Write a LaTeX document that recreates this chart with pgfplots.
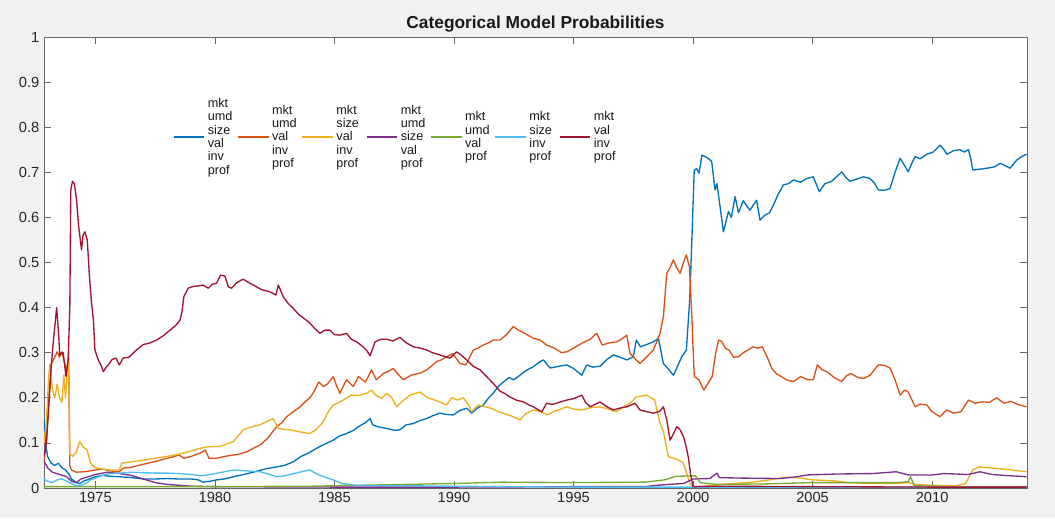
\documentclass[border=0pt]{standalone}
\usepackage{pgfplots}
\pgfplotsset{compat=1.18}
\usepackage{fontspec}
\setmainfont{Liberation Sans}

% MATLAB-style line colours
\definecolor{mblue}{rgb}{0,0.447,0.741}
\definecolor{morange}{rgb}{0.85,0.325,0.098}
\definecolor{myellow}{rgb}{0.929,0.694,0.125}
\definecolor{mpurple}{rgb}{0.494,0.184,0.556}
\definecolor{mgreen}{rgb}{0.466,0.674,0.188}
\definecolor{mcyan}{rgb}{0.301,0.745,0.933}
\definecolor{mred}{rgb}{0.635,0.078,0.184}
\definecolor{figbg}{gray}{0.945}
\definecolor{axgray}{gray}{0.15}

% stacked factor names of one model, in a box of fixed size so that
% every entry is centred on its legend line
\newcommand{\lgd}[1]{\parbox[c][64pt][c]{19.5pt}{\raggedright #1}}

\begin{document}
\begin{tikzpicture}
\fill[figbg] (-33pt,-22.5pt) rectangle (758.25pt,366pt);
\begin{axis}[
  scale only axis, width=737.25pt, height=338.25pt,
  at={(0pt,0pt)}, anchor=south west,
  axis background/.style={fill=white},
  xmin=1972.85, xmax=2013.97, ymin=0, ymax=1,
  xtick={1975,1980,1985,1990,1995,2000,2005,2010},
  ytick={0,0.1,0.2,0.3,0.4,0.5,0.6,0.7,0.8,0.9,1},
  tick align=inside, major tick length=5pt,
  axis line style={draw=black!60, line width=0.6pt},
  tick style={black!60, line width=0.6pt},
  ticklabel style={font=\fontsize{11}{13}\selectfont, text=axgray},
  /pgf/number format/assume math mode=true,
  x tick label style={/pgf/number format/1000 sep={}},
  y tick label style={/pgf/number format/.cd, fixed, precision=1},
  title={Categorical Model Probabilities},
  title style={font=\fontsize{13}{15}\selectfont\bfseries, text=black!90, yshift=-6pt},
  legend columns=7,
  legend cell align=left,
  legend style={at={(0.127,0.8185)}, anchor=west, draw=none, fill=none,
    font=\fontsize{9.5}{10}\selectfont, text=black!90,
    /tikz/every odd column/.append style={column sep=0pt},
    /tikz/every even column/.append style={column sep=0.75pt}},
  legend image code/.code={\draw[#1] (0pt,-13.5pt) -- (23pt,-13.5pt);},
  every axis plot/.append style={line width=1pt, line join=round},
]

% mkt umd size val inv prof
\addplot[mblue] coordinates {
(1972.85,0.15) (1972.92,0.1) (1973.0,0.07) (1973.15,0.055) (1973.3,0.05) (1973.45,0.055)
(1973.6,0.045) (1973.75,0.04) (1973.9,0.03) (1974.0,0.02) (1974.2,0.012) (1974.35,0.01)
(1974.5,0.015) (1974.75,0.02) (1975.0,0.025) (1975.3,0.028) (1975.6,0.026) (1976.0,0.025)
(1976.5,0.023) (1977.0,0.02) (1977.5,0.02) (1978.0,0.021) (1978.5,0.02) (1979.0,0.02)
(1979.3,0.018) (1979.5,0.013) (1979.8,0.015) (1980.07,0.018) (1980.4,0.02) (1980.77,0.025)
(1981.2,0.03) (1981.6,0.035) (1982.16,0.043) (1982.6,0.047) (1982.9,0.05) (1983.28,0.058)
(1983.6,0.07) (1983.9,0.077) (1984.15,0.085) (1984.39,0.092) (1984.7,0.1) (1984.95,0.106)
(1985.2,0.115) (1985.51,0.121) (1985.8,0.128) (1986.0,0.136) (1986.3,0.145) (1986.49,0.154)
(1986.6,0.14) (1986.8,0.136) (1987.18,0.132) (1987.5,0.128) (1987.74,0.129) (1988.0,0.14)
(1988.3,0.143) (1988.6,0.15) (1988.86,0.154) (1989.1,0.16) (1989.41,0.166) (1989.7,0.163)
(1989.97,0.162) (1990.25,0.172) (1990.53,0.177) (1990.74,0.166) (1991.0,0.178) (1991.23,0.184)
(1991.45,0.2) (1991.64,0.21) (1991.85,0.225) (1992.0,0.232) (1992.3,0.245) (1992.5,0.24)
(1992.76,0.25) (1993.0,0.26) (1993.32,0.269) (1993.6,0.28) (1993.74,0.284) (1994.02,0.266)
(1994.4,0.27) (1994.72,0.273) (1995.0,0.265) (1995.35,0.25) (1995.55,0.273) (1995.8,0.268)
(1996.11,0.27) (1996.4,0.285) (1996.67,0.295) (1996.95,0.29) (1997.23,0.284) (1997.5,0.291)
(1997.63,0.328) (1997.8,0.313) (1998.05,0.318) (1998.34,0.324) (1998.55,0.332) (1998.76,0.276)
(1998.95,0.265) (1999.18,0.25) (1999.35,0.27) (1999.53,0.291) (1999.72,0.306) (1999.86,0.417)
(1999.95,0.55) (2000.05,0.705) (2000.15,0.708) (2000.25,0.698) (2000.37,0.738) (2000.5,0.735)
(2000.65,0.73) (2000.78,0.724) (2000.92,0.661) (2001.0,0.675) (2001.13,0.624) (2001.27,0.568)
(2001.48,0.613) (2001.6,0.6) (2001.76,0.646) (2001.9,0.61) (2002.1,0.637) (2002.25,0.625)
(2002.38,0.616) (2002.55,0.63) (2002.66,0.638) (2002.8,0.594) (2003.0,0.605) (2003.2,0.61)
(2003.36,0.627) (2003.55,0.65) (2003.78,0.672) (2004.0,0.675) (2004.2,0.683) (2004.5,0.678)
(2004.75,0.686) (2005.03,0.69) (2005.28,0.657) (2005.52,0.675) (2005.8,0.68) (2006.0,0.69)
(2006.22,0.701) (2006.4,0.688) (2006.57,0.68) (2006.85,0.685) (2007.13,0.69) (2007.41,0.686)
(2007.6,0.675) (2007.75,0.661) (2008.0,0.66) (2008.24,0.664) (2008.45,0.7) (2008.66,0.731)
(2008.85,0.715) (2009.0,0.701) (2009.15,0.72) (2009.29,0.735) (2009.5,0.73) (2009.78,0.74)
(2010.05,0.745) (2010.33,0.76) (2010.5,0.75) (2010.62,0.74) (2010.9,0.748) (2011.17,0.75)
(2011.35,0.745) (2011.52,0.75) (2011.62,0.73) (2011.7,0.705) (2012.0,0.707) (2012.29,0.709)
(2012.6,0.712) (2012.85,0.72) (2013.05,0.715) (2013.26,0.709) (2013.54,0.727) (2013.75,0.735)
(2013.95,0.74)
};
\addlegendentry{\lgd{mkt\\umd\\size\\val\\inv\\prof}}

% mkt umd val inv prof
\addplot[morange] coordinates {
(1972.85,0.06) (1972.95,0.1) (1973.05,0.2) (1973.17,0.277) (1973.3,0.29) (1973.4,0.302)
(1973.5,0.29) (1973.6,0.302) (1973.7,0.28) (1973.8,0.26) (1973.88,0.29) (1973.93,0.05)
(1974.0,0.04) (1974.2,0.035) (1974.5,0.036) (1974.8,0.038) (1975.0,0.04) (1975.3,0.042)
(1975.6,0.038) (1976.0,0.036) (1976.16,0.044) (1976.5,0.046) (1976.8,0.05) (1977.2,0.055)
(1977.6,0.06) (1978.0,0.066) (1978.3,0.07) (1978.5,0.073) (1978.7,0.066) (1979.0,0.07)
(1979.37,0.077) (1979.6,0.084) (1979.75,0.066) (1980.07,0.066) (1980.4,0.07) (1980.75,0.073)
(1981.0,0.075) (1981.33,0.08) (1981.6,0.088) (1981.88,0.095) (1982.2,0.11) (1982.58,0.136)
(1982.8,0.145) (1983.0,0.158) (1983.3,0.17) (1983.56,0.18) (1983.75,0.19) (1983.97,0.2)
(1984.1,0.21) (1984.25,0.225) (1984.35,0.235) (1984.53,0.225) (1984.7,0.23) (1984.95,0.247)
(1985.1,0.225) (1985.23,0.21) (1985.5,0.24) (1985.79,0.225) (1986.0,0.247) (1986.3,0.235)
(1986.55,0.262) (1986.75,0.24) (1987.05,0.254) (1987.3,0.26) (1987.46,0.265) (1987.7,0.25)
(1987.88,0.24) (1988.2,0.25) (1988.6,0.255) (1988.86,0.262) (1989.05,0.27) (1989.27,0.28)
(1989.5,0.285) (1989.69,0.291) (1989.95,0.298) (1990.25,0.276) (1990.5,0.273) (1990.81,0.306)
(1991.0,0.31) (1991.23,0.317) (1991.45,0.322) (1991.64,0.328) (1991.92,0.328) (1992.2,0.34)
(1992.48,0.358) (1992.7,0.35) (1992.95,0.343) (1993.32,0.332) (1993.6,0.328) (1993.88,0.317)
(1994.2,0.31) (1994.5,0.3) (1994.72,0.302) (1995.0,0.31) (1995.35,0.321) (1995.7,0.33)
(1995.97,0.343) (1996.2,0.317) (1996.5,0.322) (1996.8,0.324) (1997.0,0.33) (1997.23,0.339)
(1997.36,0.299) (1997.6,0.285) (1997.78,0.276) (1998.05,0.29) (1998.34,0.306) (1998.62,0.343)
(1998.76,0.38) (1998.9,0.476) (1999.05,0.49) (1999.18,0.506) (1999.3,0.49) (1999.46,0.476)
(1999.6,0.5) (1999.72,0.517) (1999.85,0.49) (1999.95,0.38) (2000.05,0.247) (2000.25,0.24)
(2000.45,0.217) (2000.6,0.23) (2000.8,0.247) (2000.95,0.3) (2001.07,0.328) (2001.2,0.325)
(2001.35,0.31) (2001.5,0.306) (2001.7,0.29) (2001.9,0.291) (2002.1,0.3) (2002.3,0.306)
(2002.5,0.313) (2002.7,0.31) (2002.9,0.313) (2003.1,0.29) (2003.3,0.265) (2003.47,0.254)
(2003.7,0.247) (2003.9,0.24) (2004.2,0.236) (2004.5,0.247) (2004.8,0.24) (2005.03,0.24)
(2005.2,0.273) (2005.4,0.262) (2005.6,0.258) (2005.9,0.245) (2006.22,0.236) (2006.4,0.248)
(2006.6,0.254) (2006.9,0.245) (2007.13,0.243) (2007.41,0.25) (2007.75,0.273) (2008.0,0.272)
(2008.24,0.266) (2008.45,0.24) (2008.66,0.206) (2008.85,0.217) (2009.0,0.213) (2009.29,0.18)
(2009.5,0.186) (2009.78,0.184) (2010.0,0.169) (2010.33,0.158) (2010.6,0.173) (2010.9,0.166)
(2011.2,0.169) (2011.52,0.195) (2011.8,0.188) (2012.1,0.191) (2012.4,0.19) (2012.7,0.2)
(2013.0,0.188) (2013.3,0.192) (2013.6,0.185) (2013.95,0.18)
};
\addlegendentry{\lgd{mkt\\umd\\val\\inv\\prof}}

% mkt size val inv prof
\addplot[myellow] coordinates {
(1972.85,0.1) (1972.95,0.15) (1973.05,0.25) (1973.1,0.275) (1973.2,0.22) (1973.3,0.2)
(1973.4,0.23) (1973.5,0.2) (1973.6,0.19) (1973.68,0.25) (1973.75,0.2) (1973.82,0.26)
(1973.88,0.3) (1973.93,0.075) (1974.05,0.07) (1974.2,0.08) (1974.35,0.103) (1974.5,0.09)
(1974.65,0.085) (1974.8,0.055) (1975.0,0.045) (1975.3,0.042) (1975.6,0.04) (1976.0,0.04)
(1976.1,0.055) (1976.5,0.058) (1977.0,0.062) (1977.5,0.066) (1978.0,0.07) (1978.5,0.075)
(1979.0,0.082) (1979.37,0.088) (1979.8,0.092) (1980.2,0.092) (1980.77,0.103) (1981.18,0.129)
(1981.5,0.135) (1981.88,0.14) (1982.2,0.148) (1982.44,0.154) (1982.65,0.132) (1982.9,0.13)
(1983.14,0.129) (1983.5,0.125) (1983.97,0.121) (1984.25,0.13) (1984.53,0.147) (1984.75,0.17)
(1984.95,0.184) (1985.2,0.19) (1985.37,0.195) (1985.7,0.206) (1986.0,0.205) (1986.35,0.21)
(1986.55,0.217) (1986.75,0.205) (1986.97,0.199) (1987.2,0.21) (1987.4,0.2) (1987.6,0.18)
(1987.9,0.195) (1988.16,0.206) (1988.4,0.21) (1988.58,0.213) (1988.9,0.2) (1989.2,0.195)
(1989.45,0.19) (1989.69,0.184) (1989.9,0.2) (1990.15,0.195) (1990.39,0.2) (1990.6,0.185)
(1990.74,0.169) (1991.0,0.184) (1991.3,0.18) (1991.6,0.176) (1991.85,0.169) (1992.1,0.165)
(1992.48,0.158) (1992.76,0.151) (1993.0,0.165) (1993.32,0.173) (1993.6,0.17) (1993.9,0.162)
(1994.2,0.17) (1994.72,0.18) (1995.0,0.175) (1995.35,0.173) (1995.7,0.178) (1996.11,0.18)
(1996.5,0.174) (1996.8,0.169) (1997.1,0.18) (1997.36,0.188) (1997.63,0.202) (1998.06,0.206)
(1998.4,0.195) (1998.5,0.17) (1998.62,0.143) (1998.76,0.125) (1998.97,0.069) (1999.2,0.066)
(1999.4,0.062) (1999.6,0.055) (1999.75,0.03) (1999.87,0.01) (2000.0,0.002) (2000.5,0.004)
(2001.0,0.007) (2001.7,0.01) (2002.5,0.013) (2003.2,0.018) (2003.9,0.024) (2004.5,0.022)
(2005.0,0.018) (2005.86,0.016) (2006.5,0.012) (2007.5,0.01) (2008.5,0.01) (2009.0,0.012)
(2009.3,0.008) (2010.0,0.006) (2011.0,0.005) (2011.4,0.01) (2011.7,0.04) (2012.0,0.047)
(2012.3,0.045) (2012.8,0.043) (2013.3,0.04) (2013.95,0.036)
};
\addlegendentry{\lgd{mkt\\size\\val\\inv\\prof}}

% mkt umd size val prof
\addplot[mpurple] coordinates {
(1972.85,0.06) (1973.0,0.045) (1973.2,0.035) (1973.5,0.03) (1973.8,0.025) (1974.0,0.015)
(1974.2,0.012) (1974.4,0.02) (1974.7,0.025) (1975.0,0.03) (1975.5,0.035) (1976.0,0.032)
(1976.5,0.028) (1977.0,0.02) (1977.5,0.012) (1978.0,0.008) (1979.0,0.004) (1980.0,0.003)
(1985.0,0.002) (1990.0,0.002) (1995.0,0.003) (1998.0,0.003) (1998.5,0.006) (1999.0,0.008)
(1999.6,0.01) (2000.0,0.02) (2000.7,0.021) (2001.0,0.033) (2001.1,0.023) (2002.0,0.022)
(2003.64,0.021) (2004.2,0.024) (2004.8,0.029) (2006.0,0.031) (2007.5,0.032) (2008.5,0.036)
(2009.0,0.029) (2010.0,0.029) (2010.5,0.032) (2011.0,0.031) (2011.5,0.03) (2012.0,0.036)
(2012.5,0.03) (2013.0,0.028) (2013.95,0.025)
};
\addlegendentry{\lgd{mkt\\umd\\size\\val\\prof}}

% mkt umd val prof
\addplot[mgreen] coordinates {
(1972.85,0.003) (1975.0,0.003) (1980.0,0.003) (1984.0,0.004) (1986.0,0.006) (1988.0,0.008)
(1990.0,0.01) (1992.0,0.013) (1995.0,0.012) (1998.0,0.013) (1998.8,0.018) (1999.3,0.026)
(2000.1,0.027) (2000.3,0.012) (2001.0,0.008) (2003.0,0.009) (2005.0,0.012) (2007.0,0.012)
(2008.5,0.012) (2009.0,0.014) (2009.1,0.025) (2009.25,0.005) (2011.0,0.003) (2013.95,0.003)
};
\addlegendentry{\lgd{mkt\\umd\\val\\prof}}

% mkt size inv prof
\addplot[mcyan] coordinates {
(1972.85,0.02) (1973.0,0.015) (1973.2,0.012) (1973.4,0.018) (1973.6,0.02) (1973.8,0.015)
(1974.0,0.01) (1974.2,0.005) (1974.4,0.006) (1974.6,0.01) (1974.8,0.018) (1975.0,0.022)
(1975.3,0.028) (1975.6,0.032) (1976.0,0.033) (1976.5,0.035) (1977.0,0.034) (1977.5,0.033)
(1978.0,0.033) (1978.5,0.032) (1979.0,0.03) (1979.4,0.027) (1979.8,0.03) (1980.3,0.035)
(1980.77,0.04) (1981.3,0.038) (1981.9,0.036) (1982.3,0.03) (1982.58,0.025) (1982.9,0.027)
(1983.3,0.032) (1983.7,0.037) (1983.97,0.04) (1984.3,0.03) (1984.6,0.024) (1984.95,0.018)
(1985.3,0.01) (1985.93,0.006) (1988.0,0.005) (1992.0,0.003) (1995.0,0.002) (2000.0,0.002)
(2013.95,0.002)
};
\addlegendentry{\lgd{mkt\\size\\inv\\prof}}

% mkt val inv prof
\addplot[mred] coordinates {
(1972.85,0.07) (1972.95,0.1) (1973.05,0.18) (1973.15,0.27) (1973.25,0.33) (1973.38,0.4)
(1973.45,0.35) (1973.51,0.295) (1973.6,0.3) (1973.65,0.3) (1973.72,0.27) (1973.77,0.247)
(1973.86,0.284) (1973.93,0.4) (1973.97,0.66) (1974.04,0.68) (1974.12,0.675) (1974.21,0.64)
(1974.3,0.58) (1974.42,0.528) (1974.48,0.56) (1974.56,0.568) (1974.66,0.55) (1974.75,0.47)
(1974.84,0.41) (1974.92,0.37) (1974.98,0.306) (1975.12,0.284) (1975.25,0.27) (1975.33,0.258)
(1975.45,0.268) (1975.54,0.273) (1975.7,0.285) (1975.86,0.288) (1976.0,0.273) (1976.16,0.288)
(1976.4,0.29) (1976.72,0.306) (1977.0,0.318) (1977.3,0.322) (1977.56,0.328) (1977.85,0.338)
(1978.12,0.35) (1978.35,0.36) (1978.54,0.372) (1978.62,0.39) (1978.7,0.424) (1978.88,0.443)
(1979.1,0.447) (1979.3,0.448) (1979.5,0.45) (1979.72,0.443) (1979.9,0.452) (1980.07,0.454)
(1980.24,0.472) (1980.42,0.47) (1980.56,0.446) (1980.7,0.443) (1980.9,0.455) (1981.18,0.463)
(1981.4,0.456) (1981.67,0.448) (1981.95,0.44) (1982.3,0.435) (1982.55,0.428) (1982.65,0.45)
(1982.86,0.424) (1983.05,0.41) (1983.28,0.398) (1983.5,0.385) (1983.7,0.377) (1983.97,0.366)
(1984.15,0.355) (1984.39,0.343) (1984.6,0.35) (1984.81,0.35) (1985.0,0.34) (1985.23,0.339)
(1985.51,0.343) (1985.7,0.33) (1985.93,0.324) (1986.2,0.313) (1986.35,0.305) (1986.49,0.293)
(1986.7,0.324) (1986.95,0.33) (1987.18,0.33) (1987.45,0.326) (1987.74,0.334) (1988.0,0.322)
(1988.3,0.313) (1988.6,0.31) (1988.86,0.306) (1989.1,0.3) (1989.41,0.295) (1989.6,0.292)
(1989.83,0.288) (1990.11,0.302) (1990.3,0.295) (1990.53,0.284) (1990.8,0.27) (1991.09,0.262)
(1991.35,0.248) (1991.64,0.232) (1991.92,0.215) (1992.1,0.21) (1992.34,0.202) (1992.6,0.195)
(1992.9,0.191) (1993.1,0.185) (1993.32,0.18) (1993.5,0.174) (1993.67,0.169) (1993.88,0.188)
(1994.1,0.185) (1994.4,0.19) (1994.72,0.195) (1995.0,0.198) (1995.35,0.206) (1995.5,0.19)
(1995.7,0.18) (1996.11,0.191) (1996.4,0.18) (1996.67,0.173) (1997.0,0.178) (1997.23,0.18)
(1997.57,0.188) (1997.78,0.173) (1998.0,0.17) (1998.34,0.166) (1998.6,0.17) (1998.76,0.18)
(1998.9,0.151) (1999.04,0.106) (1999.18,0.12) (1999.32,0.136) (1999.45,0.13) (1999.6,0.114)
(1999.72,0.09) (1999.8,0.069) (1999.9,0.03) (2000.0,0.003) (2001.0,0.004) (2005.0,0.003)
(2010.0,0.002) (2013.95,0.002)
};
\addlegendentry{\lgd{mkt\\val\\inv\\prof}}

\end{axis}
\end{tikzpicture}
\end{document}
